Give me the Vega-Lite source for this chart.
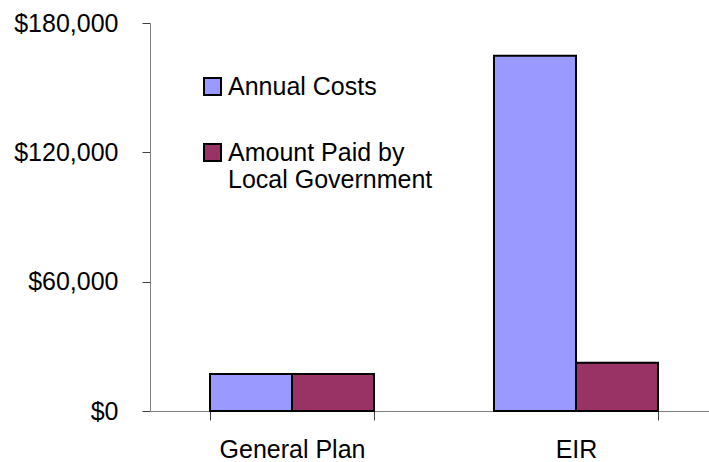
{
  "$schema": "https://vega.github.io/schema/vega-lite/v6.json",
  "width": 559,
  "height": 388,
  "autosize": {"type": "none"},
  "padding": {"left": 150, "top": 23, "right": 0, "bottom": 51},
  "background": "white",
  "config": {"view": {"stroke": null}, "font": "Liberation Sans"},
  "data": {
    "values": [
      {"project": "General Plan", "series": "Annual Costs", "amount": 17200},
      {"project": "General Plan", "series": "Amount Paid by Local Government", "amount": 17200},
      {"project": "EIR", "series": "Annual Costs", "amount": 164800},
      {"project": "EIR", "series": "Amount Paid by Local Government", "amount": 22400}
    ]
  },
  "mark": {"type": "bar", "stroke": "black", "strokeWidth": 2},
  "encoding": {
    "x": {
      "field": "project",
      "type": "nominal",
      "sort": ["General Plan", "EIR"],
      "scale": {"range": [0, 568], "paddingInner": 0.4225, "paddingOuter": 0.2113},
      "axis": {
        "title": null,
        "labelAngle": 0,
        "tickBand": "extent",
        "labelFontSize": 25,
        "labelColor": "black",
        "labelPadding": 17,
        "tickSize": 9,
        "domainColor": "#808080",
        "tickColor": "#404040",
        "grid": false
      }
    },
    "y": {
      "field": "amount",
      "type": "quantitative",
      "scale": {"domain": [0, 180000], "nice": false},
      "axis": {
        "title": null,
        "values": [0, 60000, 120000, 180000],
        "format": "$,.0f",
        "labelFontSize": 25,
        "labelColor": "black",
        "labelPadding": 24,
        "tickSize": 8,
        "grid": false,
        "domainColor": "#808080",
        "tickColor": "#404040"
      }
    },
    "xOffset": {
      "field": "series",
      "type": "nominal",
      "sort": ["Annual Costs", "Amount Paid by Local Government"],
      "scale": {"paddingInner": 0, "paddingOuter": 0}
    },
    "color": {
      "field": "series",
      "type": "nominal",
      "sort": ["Annual Costs", "Amount Paid by Local Government"],
      "scale": {"range": ["#9999FF", "#993366"]},
      "legend": {
        "title": null,
        "orient": "none",
        "legendX": 50,
        "legendY": 51,
        "padding": 0,
        "symbolType": "square",
        "symbolSize": 289,
        "symbolStrokeColor": "black",
        "symbolStrokeWidth": 2,
        "symbolOpacity": 1,
        "labelFontSize": 25,
        "labelColor": "black",
        "labelLimit": 400,
        "labelOffset": 3,
        "rowPadding": 40,
        "labelExpr": "datum.label == 'Amount Paid by Local Government' ? ['Amount Paid by', 'Local Government'] : datum.label"
      }
    }
  }
}
